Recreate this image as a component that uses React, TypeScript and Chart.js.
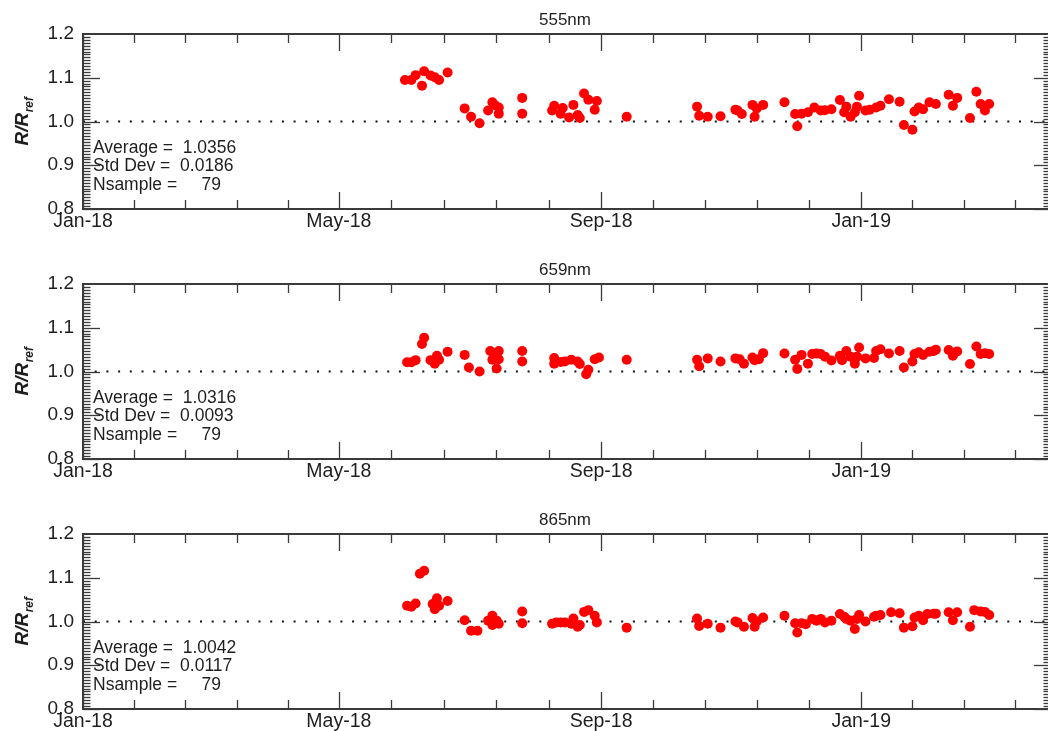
import React, { useEffect, useRef } from "react";
import { Chart, registerables } from "chart.js";

Chart.register(...registerables);

const FONT = "'Liberation Sans', Arial, Helvetica, sans-serif";

const panelTitles = ["555nm", "659nm", "865nm"];
const xTickDays = [0, 120, 243, 365];
const xTickLabels = ["Jan-18", "May-18", "Sep-18", "Jan-19"];
const xMajorBounds = [0, 120, 243, 365, 485];
const yTickValues = [0.8, 0.9, 1.0, 1.1, 1.2];
const averages = ["1.0356", "1.0316", "1.0042"];
const stdDevs = ["0.0186", "0.0093", "0.0117"];
const nSamples = [79, 79, 79];

// days since 1 Jan 2018
const days555 = [151, 154, 156, 159, 160, 163, 165, 167, 171, 179, 182, 186, 190, 192, 193, 195, 195, 206, 206, 220, 221, 224, 225, 228, 230, 232, 233, 235, 237, 240, 241, 255, 288, 289, 293, 299, 306, 307, 309, 314, 315, 316, 319, 329, 334, 335, 337, 340, 343, 346, 348, 351, 355, 357, 358, 360, 362, 363, 364, 367, 369, 372, 374, 378, 383, 385, 389, 390, 392, 394, 397, 400, 406, 408, 410, 416, 419, 421, 423, 425];
const ratio555 = [1.095, 1.095, 1.106, 1.082, 1.115, 1.105, 1.101, 1.095, 1.112, 1.030, 1.011, 0.996, 1.025, 1.044, 1.038, 1.032, 1.018, 1.018, 1.054, 1.025, 1.036, 1.018, 1.031, 1.009, 1.038, 1.015, 1.008, 1.064, 1.050, 1.027, 1.047, 1.011, 1.034, 1.013, 1.011, 1.012, 1.027, 1.025, 1.017, 1.038, 1.011, 1.030, 1.038, 1.044, 1.017, 0.989, 1.018, 1.021, 1.032, 1.025, 1.026, 1.028, 1.049, 1.021, 1.034, 1.011, 1.021, 1.034, 1.059, 1.025, 1.027, 1.032, 1.036, 1.051, 1.045, 0.992, 0.981, 1.023, 1.032, 1.028, 1.044, 1.040, 1.061, 1.036, 1.054, 1.008, 1.068, 1.040, 1.025, 1.040];

const days659 = [152, 154, 156, 159, 160, 163, 165, 166, 167, 171, 179, 181, 186, 191, 192, 193, 195, 194, 195, 206, 206, 221, 221, 224, 226, 229, 232, 233, 236, 237, 240, 242, 255, 288, 289, 293, 299, 306, 308, 310, 314, 315, 317, 319, 329, 334, 335, 337, 340, 342, 344, 346, 348, 351, 355, 356, 358, 360, 362, 363, 364, 367, 371, 372, 374, 378, 383, 385, 389, 390, 392, 394, 397, 399, 400, 406, 408, 410, 416, 419, 421, 423, 425];
const ratio659 = [1.021, 1.021, 1.026, 1.063, 1.077, 1.026, 1.018, 1.036, 1.027, 1.045, 1.038, 1.009, 1.000, 1.047, 1.027, 1.034, 1.047, 1.007, 1.028, 1.023, 1.047, 1.018, 1.031, 1.022, 1.023, 1.027, 1.023, 1.017, 0.994, 1.004, 1.028, 1.032, 1.027, 1.027, 1.012, 1.030, 1.023, 1.030, 1.028, 1.018, 1.032, 1.026, 1.028, 1.042, 1.041, 1.027, 1.006, 1.038, 1.018, 1.040, 1.041, 1.040, 1.034, 1.025, 1.036, 1.026, 1.047, 1.034, 1.018, 1.034, 1.055, 1.030, 1.031, 1.047, 1.051, 1.041, 1.047, 1.009, 1.023, 1.040, 1.044, 1.038, 1.045, 1.047, 1.050, 1.049, 1.036, 1.046, 1.017, 1.057, 1.040, 1.042, 1.040];

const days865 = [152, 154, 156, 158, 160, 164, 165, 166, 167, 171, 179, 182, 185, 190, 192, 192, 194, 195, 206, 206, 220, 222, 224, 226, 229, 230, 232, 233, 235, 237, 240, 241, 255, 288, 289, 293, 299, 306, 307, 310, 314, 315, 316, 319, 329, 334, 335, 337, 339, 342, 344, 346, 348, 351, 355, 357, 358, 360, 362, 363, 364, 367, 371, 372, 374, 379, 383, 385, 389, 390, 392, 394, 396, 399, 400, 406, 408, 410, 416, 418, 421, 423, 425];
const ratio865 = [1.036, 1.034, 1.041, 1.109, 1.116, 1.040, 1.028, 1.053, 1.036, 1.047, 1.003, 0.979, 0.979, 1.002, 1.013, 0.992, 1.002, 0.995, 0.996, 1.023, 0.995, 0.998, 0.998, 0.998, 0.995, 1.007, 0.988, 0.992, 1.022, 1.026, 1.013, 0.998, 0.986, 1.007, 0.990, 0.995, 0.986, 1.000, 0.998, 0.988, 1.008, 0.988, 1.000, 1.009, 1.013, 0.996, 0.975, 0.996, 0.994, 1.006, 1.002, 1.006, 0.998, 1.002, 1.017, 1.011, 1.006, 1.002, 0.983, 1.006, 1.015, 1.000, 1.011, 1.013, 1.015, 1.021, 1.019, 0.986, 0.989, 1.009, 1.013, 1.003, 1.017, 1.018, 1.018, 1.021, 1.003, 1.021, 0.988, 1.026, 1.023, 1.022, 1.015];

const panelDays = [days555, days659, days865];
const panelRatios = [ratio555, ratio659, ratio865];

const X_MIN = 0;
const X_MAX = 454;
const Y_MIN = 0.8;
const Y_MAX = 1.2;
const REF_LEVEL = 1.0;

const framePlugin = {
  id: "idlFrame",
  afterDatasetsDraw(chart: any, _args: any, opts: any) {
    const { ctx, chartArea } = chart;
    const { left, right, top, bottom } = chartArea;
    const xs = chart.scales.x;
    const ys = chart.scales.y;
    ctx.save();
    ctx.strokeStyle = "#3a3a3a";
    ctx.lineWidth = 1.3;
    const line = (x1: number, y1: number, x2: number, y2: number) => {
      ctx.beginPath();
      ctx.moveTo(x1, y1);
      ctx.lineTo(x2, y2);
      ctx.stroke();
    };
    // x ticks (major + 4 minor between)
    for (let i = 0; i < xMajorBounds.length - 1; i++) {
      const a = xMajorBounds[i];
      const b = xMajorBounds[i + 1];
      for (let k = 0; k < 5; k++) {
        const d = a + ((b - a) * k) / 5;
        const px = Math.round(xs.getPixelForValue(d)) + 0.5;
        if (px < left - 1 || px > right + 1) continue;
        const len = k === 0 ? 17 : 9;
        line(px, bottom, px, bottom - len);
        line(px, top, px, top + len);
      }
    }
    // y ticks
    const nMinor = 15;
    for (let i = 0; i < yTickValues.length - 1; i++) {
      const a = yTickValues[i];
      const b = yTickValues[i + 1];
      for (let k = 0; k < nMinor; k++) {
        const v = a + ((b - a) * k) / nMinor;
        const py = Math.round(ys.getPixelForValue(v)) + 0.5;
        const len = k === 0 ? 17 : 7.5;
        line(left, py, left + len, py);
        line(right, py, right - len, py);
      }
    }
    // frame
    ctx.lineWidth = 2;
    ctx.strokeStyle = "#3a3a3a";
    ctx.strokeRect(left, top, right - left, bottom - top);

    // title
    ctx.fillStyle = "#1e1e1e";
    ctx.font = `17px ${FONT}`;
    ctx.textAlign = "center";
    ctx.textBaseline = "middle";
    ctx.fillText(opts.title, (left + right) / 2 - 2, top - 14);

    // stats
    ctx.font = `17.5px ${FONT}`;
    ctx.textAlign = "left";
    ctx.fillText(`Average =  ${opts.avg}`, left + 10, top + 114);
    ctx.fillText(`Std Dev =  ${opts.std}`, left + 10, top + 132.5);
    ctx.fillText(`Nsample =     ${opts.n}`, left + 10, top + 151);

    // y title R/R_ref
    const cy = (top + bottom) / 2;
    ctx.translate(28, cy);
    ctx.rotate(-Math.PI / 2);
    ctx.font = `italic bold 19px ${FONT}`;
    const mainTxt = "R/R";
    const wMain = ctx.measureText(mainTxt).width;
    ctx.font = `italic bold 12px ${FONT}`;
    const subTxt = "ref";
    const wSub = ctx.measureText(subTxt).width;
    const x0 = -(wMain + wSub) / 2;
    ctx.textAlign = "left";
    ctx.textBaseline = "alphabetic";
    ctx.font = `italic bold 19px ${FONT}`;
    ctx.fillText(mainTxt, x0, 0);
    ctx.font = `italic bold 12px ${FONT}`;
    ctx.fillText(subTxt, x0 + wMain + 0.5, 5);
    ctx.restore();
  },
};

function Panel({ index }: { index: number }) {
  const ref = useRef<HTMLCanvasElement | null>(null);
  useEffect(() => {
    if (!ref.current) return;
    const days = panelDays[index];
    const vals = panelRatios[index];
    const chart = new Chart(ref.current, {
      type: "scatter",
      data: {
        datasets: [
          {
            data: days.map((d, k) => ({ x: d, y: vals[k] })),
            backgroundColor: "#ff0000",
            borderColor: "#ff0000",
            pointRadius: 5,
            pointHoverRadius: 5,
            pointBorderWidth: 0,
          } as any,
          {
            type: "line",
            data: [
              { x: X_MIN, y: REF_LEVEL },
              { x: X_MAX, y: REF_LEVEL },
            ],
            borderColor: "#111",
            borderWidth: 2,
            borderDash: [2, 9.7],
            pointRadius: 0,
            showLine: true,
            fill: false,
          } as any,
        ],
      },
      options: {
        animation: false,
        responsive: false,
        events: [],
        layout: { padding: { top: 34, left: 0, right: 2, bottom: 0 } },
        plugins: {
          legend: { display: false },
          tooltip: { enabled: false },
          title: { display: false },
          idlFrame: {
            title: panelTitles[index],
            avg: averages[index],
            std: stdDevs[index],
            n: nSamples[index],
          },
        } as any,
        scales: {
          x: {
            type: "linear",
            min: X_MIN,
            max: X_MAX,
            afterBuildTicks: (s: any) => {
              s.ticks = xTickDays.map((v) => ({ value: v }));
            },
            afterFit: (s: any) => {
              s.height = 41;
            },
            grid: { display: false, drawTicks: false },
            border: { display: false },
            ticks: {
              autoSkip: false,
              maxRotation: 0,
              minRotation: 0,
              padding: 1,
              color: "#1e1e1e",
              font: { family: FONT, size: 19.5 },
              callback: (v: any) => {
                const i = xTickDays.indexOf(Number(v));
                return i >= 0 ? xTickLabels[i] : "";
              },
            },
          },
          y: {
            type: "linear",
            min: Y_MIN,
            max: Y_MAX,
            afterBuildTicks: (s: any) => {
              s.ticks = yTickValues.map((v) => ({ value: v }));
            },
            afterFit: (s: any) => {
              s.width = 83;
            },
            grid: { display: false, drawTicks: false },
            border: { display: false },
            ticks: {
              padding: 9,
              color: "#1e1e1e",
              font: { family: FONT, size: 19 },
              callback: (v: any) => Number(v).toFixed(1),
            },
          },
        },
      } as any,
      plugins: [framePlugin as any],
    });
    return () => chart.destroy();
  }, [index]);
  return (
    <div style={{ position: "absolute", left: 0, top: index * 250, width: 1056, height: 250 }}>
      <canvas ref={ref} width={1056} height={250} style={{ display: "block" }} />
    </div>
  );
}

export default function App() {
  return (
    <div
      style={{
        position: "absolute",
        left: 0,
        top: 0,
        width: 1048,
        height: 731,
        overflow: "hidden",
        background: "#fff",
      }}
    >
      {panelTitles.map((_, i) => (
        <Panel key={i} index={i} />
      ))}
    </div>
  );
}
